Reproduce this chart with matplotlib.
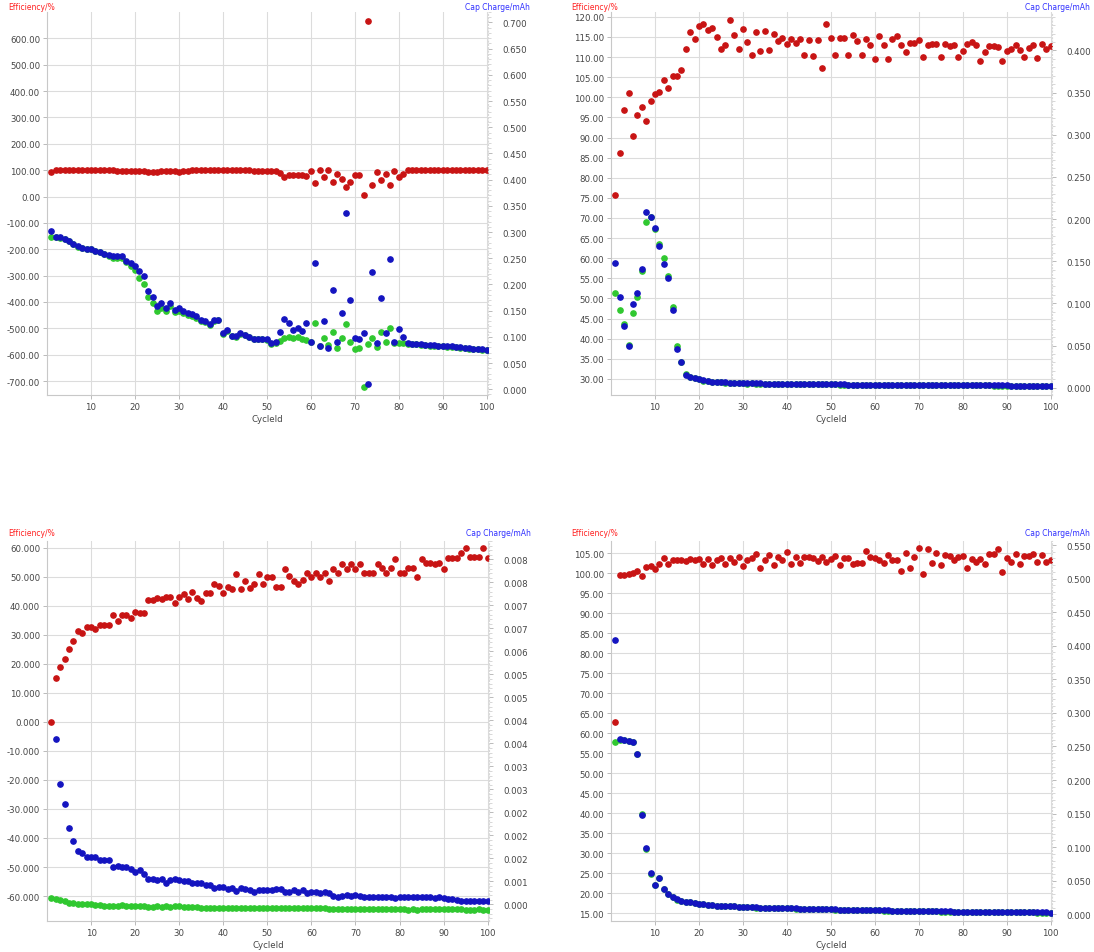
import numpy as np
import matplotlib
matplotlib.use("Agg")
import matplotlib.pyplot as plt
from matplotlib.ticker import FixedLocator, AutoMinorLocator

cycles = list(range(1, 101))

# ---- panel 1 (top left)
eff_1 = [93,
         100, 100, 99, 100, 100, 99, 100, 100, 100, 100, 100, 99, 100, 99, 98, 98, 98, 98, 97,
         95, 95, 94, 94, 93, 95, 95, 95, 95, 94,
         98, 98, 99, 99, 99, 99, 99, 99, 99, 99, 99, 99, 99, 99, 99, 99, 98, 98, 97, 96, 98, 97,
         88, 75, 80, 82, 83, 82, 78, 97, 52, 99, 75, 99, 56, 87, 67, 36, 55, 80,
         81, 5, 667, 43, 93, 62, 84, 45, 97, 74, 84,
         99, 100, 100, 100, 100, 100, 100, 100, 100, 100, 100, 100, 100, 100, 99, 100, 100, 100, 100]
chg_1 = [0.302, 0.291, 0.290, 0.287, 0.283, 0.278, 0.273, 0.270, 0.268, 0.268,
         0.264, 0.262, 0.259, 0.257, 0.254, 0.254, 0.254, 0.245, 0.240, 0.235,
         0.225, 0.216, 0.187, 0.176, 0.158, 0.164, 0.155, 0.164, 0.152, 0.155,
         0.149, 0.146, 0.144, 0.139, 0.132, 0.130, 0.125, 0.132, 0.133, 0.107,
         0.114, 0.102, 0.101, 0.107, 0.104, 0.100, 0.096, 0.096, 0.096, 0.095,
         0.088, 0.091, 0.110, 0.134, 0.126, 0.114, 0.117, 0.112, 0.126, 0.091,
         0.241, 0.082, 0.130, 0.079, 0.190, 0.091, 0.146, 0.337, 0.171, 0.098,
         0.096, 0.107, 0.010, 0.224, 0.088, 0.174, 0.107, 0.248, 0.090, 0.115,
         0.100, 0.088, 0.087, 0.087, 0.086, 0.085, 0.084, 0.084, 0.083, 0.083,
         0.082, 0.082, 0.081, 0.080, 0.079, 0.078, 0.077, 0.077, 0.076, 0.075]
dchg_1 = [0.291, 0.290, 0.289, 0.286, 0.282, 0.277, 0.272, 0.269, 0.267, 0.267,
          0.263, 0.261, 0.258, 0.254, 0.251, 0.251, 0.251, 0.242, 0.236, 0.228,
          0.213, 0.200, 0.176, 0.164, 0.149, 0.155, 0.149, 0.158, 0.147, 0.150,
          0.146, 0.142, 0.140, 0.136, 0.131, 0.129, 0.123, 0.130, 0.132, 0.105,
          0.112, 0.101, 0.100, 0.106, 0.103, 0.099, 0.095, 0.095, 0.095, 0.094,
          0.087, 0.089, 0.093, 0.097, 0.099, 0.098, 0.099, 0.096, 0.094, 0.090,
          0.126, 0.082, 0.098, 0.085, 0.110, 0.079, 0.098, 0.125, 0.091, 0.077,
          0.079, 0.005, 0.087, 0.098, 0.080, 0.110, 0.091, 0.117, 0.089, 0.089,
          0.088, 0.087, 0.086, 0.086, 0.085, 0.084, 0.083, 0.083, 0.082, 0.082,
          0.081, 0.081, 0.080, 0.079, 0.078, 0.077, 0.076, 0.076, 0.075, 0.074]

# ---- panel 2 (top right)
eff_2 = [75.7, 86.1, 96.9, 101.0, 90.3, 95.6, 97.7, 94.2, 99.2, 100.7,
         101.3, 104.4, 102.3, 105.4, 105.4, 106.8, 112.1, 116.3, 114.6, 117.8,
         118.3, 116.8, 117.3, 115.0, 111.9, 112.9, 119.2, 115.6, 111.9, 116.9,
         113.8, 110.4, 116.3, 111.4, 116.5, 111.7, 115.8, 113.9, 114.8, 113.2,
         114.6, 113.5, 114.4, 110.4, 114.2, 110.2, 114.2, 107.4, 118.2, 114.8,
         110.4, 114.8, 114.8, 110.6, 115.4, 113.9, 110.6, 114.6, 112.9, 109.4,
         115.2, 113.1, 109.5, 114.6, 115.2, 112.9, 111.3, 113.5, 113.5, 114.3,
         109.9, 112.9, 113.3, 113.3, 110.1, 113.2, 112.7, 113.1, 110.1, 111.6,
         113.2, 113.8, 112.9, 109.1, 111.3, 112.7, 112.7, 112.4, 108.9, 111.6,
         112.1, 112.9, 111.7, 110.1, 112.3, 112.9, 109.8, 113.3, 112.1, 112.7]
chg_2 = [0.148, 0.107, 0.073, 0.050, 0.099, 0.112, 0.141, 0.208, 0.203, 0.189,
         0.168, 0.147, 0.130, 0.092, 0.046, 0.030, 0.0155, 0.013, 0.011, 0.010,
         0.0085, 0.0075, 0.0068, 0.0068, 0.0072, 0.0062, 0.0055, 0.0055, 0.0055, 0.0055,
         0.0050, 0.0052, 0.0050, 0.0050, 0.0048, 0.0048, 0.0048, 0.0046, 0.0045, 0.0044,
         0.0045, 0.0042, 0.0042, 0.0042, 0.0042, 0.0041, 0.0040, 0.0040, 0.0039, 0.0039,
         0.0039, 0.0038, 0.0038, 0.0037, 0.0036, 0.0037, 0.0036, 0.0035, 0.0034, 0.0034,
         0.0034, 0.0034, 0.0033, 0.0033, 0.0032, 0.0032, 0.0032, 0.0031, 0.0031, 0.0030,
         0.0030, 0.0030, 0.0030, 0.0029, 0.0029, 0.0029, 0.0029, 0.0028, 0.0028, 0.0028,
         0.0028, 0.0028, 0.0027, 0.0027, 0.0027, 0.0027, 0.0026, 0.0026, 0.0026, 0.0026,
         0.0025, 0.0025, 0.0025, 0.0025, 0.0024, 0.0024, 0.0024, 0.0023, 0.0023, 0.0023]
dchg_2 = [0.112, 0.092, 0.075, 0.051, 0.089, 0.108, 0.138, 0.197, 0.202, 0.188,
          0.170, 0.154, 0.133, 0.096, 0.049, 0.031, 0.0160, 0.013, 0.011, 0.010,
          0.0084, 0.0074, 0.0067, 0.0067, 0.0071, 0.0061, 0.0054, 0.0054, 0.0054, 0.0054,
          0.0049, 0.0051, 0.0049, 0.0049, 0.0047, 0.0047, 0.0047, 0.0045, 0.0044, 0.0043,
          0.0044, 0.0041, 0.0041, 0.0041, 0.0041, 0.0040, 0.0039, 0.0039, 0.0038, 0.0038,
          0.0038, 0.0037, 0.0037, 0.0036, 0.0035, 0.0036, 0.0035, 0.0034, 0.0033, 0.0033,
          0.0033, 0.0033, 0.0032, 0.0032, 0.0031, 0.0031, 0.0031, 0.0030, 0.0030, 0.0029,
          0.0029, 0.0029, 0.0029, 0.0028, 0.0028, 0.0028, 0.0028, 0.0027, 0.0027, 0.0027,
          0.0027, 0.0027, 0.0026, 0.0026, 0.0026, 0.0026, 0.0025, 0.0025, 0.0025, 0.0025,
          0.0024, 0.0024, 0.0024, 0.0024, 0.0023, 0.0023, 0.0023, 0.0022, 0.0022, 0.0022]

# ---- panel 3 (bottom left)
eff_3 = [0.0, 15.0, 19.0, 21.5, 25.0, 27.8, 31.3, 30.7, 32.8, 32.7,
         31.9, 33.2, 33.2, 33.2, 36.7, 34.7, 36.8, 36.7, 35.7, 37.8,
         37.6, 37.6, 41.9, 41.9, 42.8, 42.4, 43.0, 43.0, 40.8, 43.0,
         43.9, 42.2, 44.8, 42.8, 41.6, 44.5, 44.5, 47.4, 46.8, 44.5,
         46.4, 45.6, 51.0, 45.6, 48.5, 46.2, 47.4, 51.0, 47.6, 49.9,
         49.9, 46.4, 46.4, 52.5, 50.2, 48.5, 47.4, 48.7, 51.4, 49.9,
         51.4, 49.9, 51.4, 48.5, 52.8, 51.4, 54.3, 52.8, 54.3, 52.5,
         54.3, 51.4, 51.4, 51.4, 54.3, 53.1, 51.4, 53.1, 56.0, 51.4,
         51.4, 53.1, 53.1, 49.9, 56.0, 54.8, 54.8, 54.5, 54.8, 52.8,
         56.6, 56.6, 56.6, 58.3, 60.0, 56.8, 56.8, 56.8, 60.0, 56.6]
chg_3 = [np.nan, 0.003587, 0.002623, 0.002188, 0.001667, 0.001377, 0.001159, 0.001123, 0.001036, 0.001036,
         0.001036, 0.000957, 0.000957, 0.000957, 0.000812, 0.000833, 0.000812, 0.000812, 0.000761, 0.000710,
         0.000746, 0.000667, 0.000543, 0.000543, 0.000522, 0.000543, 0.000471, 0.000522, 0.000543, 0.000522,
         0.000507, 0.000507, 0.000471, 0.000471, 0.000457, 0.000413, 0.000413, 0.000362, 0.000377, 0.000377,
         0.000326, 0.000362, 0.000290, 0.000362, 0.000341, 0.000312, 0.000275, 0.000304, 0.000304, 0.000312,
         0.000312, 0.000326, 0.000326, 0.000268, 0.000275, 0.000304, 0.000268, 0.000304, 0.000254, 0.000268,
         0.000275, 0.000254, 0.000268, 0.000254, 0.000181, 0.000159, 0.000181, 0.000196, 0.000181, 0.000203,
         0.000181, 0.000167, 0.000159, 0.000167, 0.000159, 0.000152, 0.000167, 0.000159, 0.000145, 0.000159,
         0.000152, 0.000159, 0.000159, 0.000152, 0.000159, 0.000167, 0.000152, 0.000145, 0.000159, 0.000145,
         0.000109, 0.000109, 0.000094, 0.000072, 0.000072, 0.000072, 0.000072, 0.000072, 0.000072, 0.000072]
dchg_3 = [0.000145, 0.000123, 0.000094, 0.000072, 0.000036, 0.000022, 0.000014, 0.000014, 0.000000, 0.000000,
          -0.000022, -0.000022, -0.000029, -0.000029, -0.000029, -0.000036, -0.000022, -0.000029, -0.000036, -0.000036,
          -0.000043, -0.000043, -0.000051, -0.000051, -0.000043, -0.000051, -0.000043, -0.000051, -0.000043, -0.000036,
          -0.000058, -0.000058, -0.000065, -0.000065, -0.000072, -0.000072, -0.000072, -0.000080, -0.000080, -0.000087,
          -0.000080, -0.000087, -0.000080, -0.000072, -0.000087, -0.000080, -0.000072, -0.000080, -0.000072, -0.000080,
          -0.000087, -0.000072, -0.000080, -0.000087, -0.000087, -0.000080, -0.000087, -0.000080, -0.000087, -0.000080,
          -0.000087, -0.000080, -0.000087, -0.000094, -0.000101, -0.000094, -0.000101, -0.000101, -0.000094, -0.000101,
          -0.000101, -0.000094, -0.000109, -0.000101, -0.000094, -0.000101, -0.000109, -0.000101, -0.000094, -0.000109,
          -0.000101, -0.000116, -0.000109, -0.000123, -0.000094, -0.000101, -0.000094, -0.000101, -0.000101, -0.000109,
          -0.000101, -0.000101, -0.000109, -0.000101, -0.000116, -0.000123, -0.000123, -0.000109, -0.000116, -0.000130]

# ---- panel 4 (bottom right)
eff_4 = [62.9, 99.5, 99.6, 99.75, 100.0, 100.6, 99.3, 101.7, 101.8, 101.2,
         102.25, 103.9, 102.25, 103.25, 103.3, 103.25, 103.1, 103.7, 103.25, 103.5,
         102.4, 103.7, 102.1, 103.25, 103.75, 102.4, 103.9, 102.9, 104.1, 101.8,
         103.3, 103.9, 104.75, 101.4, 103.25, 104.6, 102.1, 104.2, 103.3, 105.4,
         102.25, 104.1, 102.7, 104.1, 104.2, 103.75, 103.1, 104.1, 102.9, 103.5,
         104.3, 102.1, 103.9, 103.9, 102.4, 102.5, 102.5, 105.6, 104.2, 103.9,
         103.3, 102.7, 104.6, 103.3, 103.25, 100.6, 105.2, 101.4, 104.2, 106.4,
         99.75, 106.2, 102.7, 105.0, 102.0, 104.6, 104.3, 103.25, 104.2, 104.3,
         101.4, 103.5, 102.9, 103.7, 102.25, 104.75, 104.9, 106.2, 100.3, 103.9,
         102.9, 104.75, 102.4, 104.3, 104.3, 104.9, 102.9, 104.6, 102.8, 103.3]
chg_4 = [0.409, 0.2606, 0.2596, 0.2581, 0.2571, 0.2392, 0.1474, 0.0983, 0.0611, 0.0432,
         0.0546, 0.0382, 0.0308, 0.0263, 0.0223, 0.0199, 0.0189, 0.0179, 0.0169, 0.0159,
         0.0149, 0.0139, 0.0134, 0.0129, 0.0127, 0.0124, 0.0121, 0.0119, 0.0116, 0.0114,
         0.0109, 0.0107, 0.0104, 0.0102, 0.0100, 0.0099, 0.0097, 0.0095, 0.0094, 0.0092,
         0.0090, 0.0088, 0.0087, 0.0085, 0.0084, 0.0082, 0.0080, 0.0079, 0.0077, 0.0075,
         0.0074, 0.0072, 0.0071, 0.0069, 0.0068, 0.0066, 0.0065, 0.0064, 0.0062, 0.0061,
         0.0060, 0.0059, 0.0058, 0.0057, 0.0056, 0.0055, 0.0054, 0.0053, 0.0052, 0.0051,
         0.0048, 0.0047, 0.0046, 0.0045, 0.0044, 0.0044, 0.0043, 0.0042, 0.0041, 0.0041,
         0.0040, 0.0039, 0.0039, 0.0038, 0.0037, 0.0037, 0.0036, 0.0035, 0.0035, 0.0034,
         0.0033, 0.0033, 0.0032, 0.0031, 0.0031, 0.0030, 0.0029, 0.0029, 0.0028, 0.0027]
dchg_4 = [0.2570, 0.2600, 0.2590, 0.2575, 0.2565, 0.2385, 0.1490, 0.0980, 0.0608, 0.0430,
          0.0544, 0.0380, 0.0306, 0.0261, 0.0221, 0.0197, 0.0187, 0.0177, 0.0167, 0.0157,
          0.0147, 0.0137, 0.0132, 0.0127, 0.0125, 0.0122, 0.0119, 0.0117, 0.0114, 0.0112,
          0.0107, 0.0105, 0.0102, 0.0100, 0.0098, 0.0097, 0.0095, 0.0093, 0.0092, 0.0090,
          0.0088, 0.0086, 0.0085, 0.0083, 0.0082, 0.0080, 0.0078, 0.0077, 0.0075, 0.0073,
          0.0072, 0.0070, 0.0069, 0.0067, 0.0066, 0.0064, 0.0063, 0.0062, 0.0060, 0.0059,
          0.0058, 0.0057, 0.0056, 0.0055, 0.0054, 0.0053, 0.0052, 0.0051, 0.0050, 0.0049,
          0.0046, 0.0045, 0.0044, 0.0043, 0.0042, 0.0042, 0.0041, 0.0040, 0.0039, 0.0039,
          0.0038, 0.0037, 0.0037, 0.0036, 0.0035, 0.0035, 0.0034, 0.0033, 0.0033, 0.0032,
          0.0031, 0.0031, 0.0030, 0.0029, 0.0029, 0.0028, 0.0027, 0.0027, 0.0026, 0.0025]

# right axis labels of panel 3 as printed by the instrument software
p3_right_labels = ["0.000", "0.001", "0.002", "0.002", "0.002", "0.003", "0.003", "0.004",
                   "0.004", "0.005", "0.005", "0.006", "0.007", "0.007", "0.008", "0.008"]

x_ticks = [10, 20, 30, 40, 50, 60, 70, 80, 90, 100]
left_label = "Efficiency/%"
right_label = "Cap Charge/mAh"
x_label = "CycleId"

RED = "#c81414"
BLUE = "#1414c0"
GREEN = "#30c830"
TXT = "#454545"
W, H = 1094, 953

fig = plt.figure(figsize=(W / 100, H / 100), dpi=100)


def panel(rect, eff, chg, dchg, ylim_l, yticks_l, fmt_l, ylim_r, yticks_r, labels_r, top_px):
    ax = fig.add_axes(rect)
    ax.set_xlim(0, 100.3)
    ax.set_ylim(*ylim_l)
    ax.set_xticks(x_ticks)
    ax.set_xticklabels([str(t) for t in x_ticks])
    ax.set_yticks(yticks_l)
    ax.set_yticklabels([fmt_l % v for v in yticks_l])
    ax.grid(True, color="#dcdcdc", lw=0.8)
    ax.set_axisbelow(True)
    ax.plot(cycles, eff, "o", color=RED, ms=3.8, mec=RED, zorder=3)
    ax.tick_params(labelsize=6.2, colors=TXT, length=3, width=0.6, pad=2)
    ax.tick_params(axis="both", color="#b0b0b0")
    for s in ["top", "right"]:
        ax.spines[s].set_visible(False)
    for s in ["left", "bottom"]:
        ax.spines[s].set_color("#c8c8c8")
        ax.spines[s].set_linewidth(0.8)
    ax.set_xlabel(x_label, fontsize=6.2, color=TXT, labelpad=2)

    ax2 = ax.twinx()
    ax2.set_ylim(*ylim_r)
    ax2.yaxis.set_major_locator(FixedLocator(yticks_r))
    ax2.set_yticklabels(labels_r)
    ax2.yaxis.set_minor_locator(AutoMinorLocator(5))
    ax2.tick_params(labelsize=6.2, colors=TXT, length=3, width=0.6, pad=7, color="#b0b0b0")
    ax2.tick_params(which="minor", length=2, width=0.5, color="#c8c8c8")
    for s in ["top", "left", "bottom"]:
        ax2.spines[s].set_visible(False)
    ax2.spines["right"].set_color("#d8d8d8")
    ax2.spines["right"].set_linestyle((0, (1, 2)))
    ax2.plot(cycles, dchg, "o", color=GREEN, ms=3.8, mec=GREEN, zorder=3)
    ax2.plot(cycles, chg, "o", color=BLUE, ms=3.8, mec=BLUE, zorder=4)

    x0 = rect[0] * W
    x1 = (rect[0] + rect[2]) * W
    fig.text(8 / W if x0 < 300 else (x0 - 40) / W, 1 - top_px / H, left_label,
             color="#ff2020", fontsize=5.5, va="center", ha="left")
    fig.text(min(x1 + 42, 1090) / W, 1 - top_px / H, right_label,
             color="#3030ff", fontsize=5.5, va="center", ha="right")
    return ax, ax2


# top left
panel([47 / W, 1 - 396 / H, 441 / W, 383 / H], eff_1, chg_1, dchg_1,
      (-753, 700), list(range(600, -701, -100)), "%.2f",
      (-0.011, 0.720), [round(0.05 * k, 3) for k in range(15)],
      ["%.3f" % (0.05 * k) for k in range(15)], 7)

# top right
panel([611 / W, 1 - 396 / H, 441 / W, 383 / H], eff_2, chg_2, dchg_2,
      (26.0, 121.2), list(range(120, 29, -5)), "%.2f",
      (-0.0087, 0.4456), [round(0.05 * k, 3) for k in range(9)],
      ["%.3f" % (0.05 * k) for k in range(9)], 7)

# bottom left
panel([47 / W, 1 - 922 / H, 442 / W, 380 / H], eff_3, chg_3, dchg_3,
      (-68.6, 62.3), list(range(60, -61, -10)), "%.3f",
      (-0.00036, 0.0079), [0.0005 * k for k in range(16)],
      p3_right_labels, 533)

# bottom right
panel([611 / W, 1 - 922 / H, 441 / W, 380 / H], eff_4, chg_4, dchg_4,
      (13.1, 108.1), list(range(105, 14, -5)), "%.2f",
      (-0.0099, 0.556), [round(0.05 * k, 3) for k in range(12)],
      ["%.3f" % (0.05 * k) for k in range(12)], 533)

fig.savefig("out.png", dpi=100)
